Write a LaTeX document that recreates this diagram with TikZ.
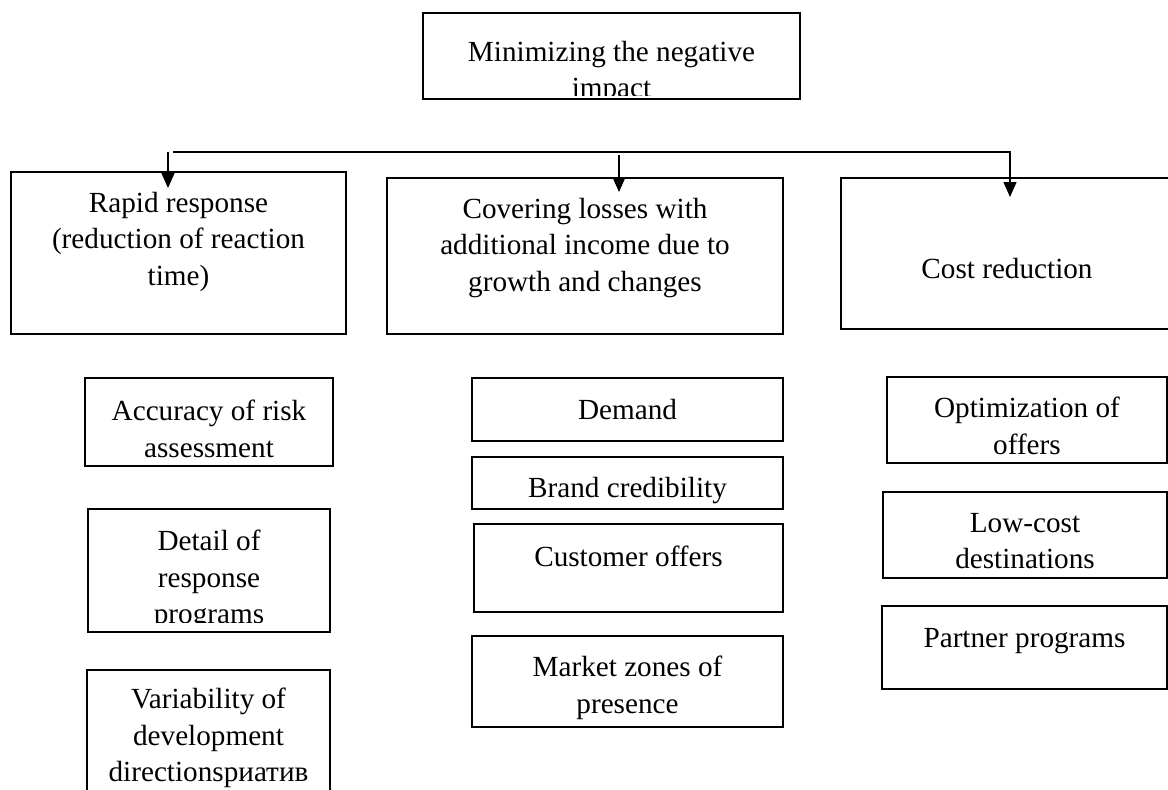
\documentclass[tikz,border=0pt]{standalone}
\usepackage{fontspec}
\setmainfont{Liberation Serif}
\usetikzlibrary{arrows.meta}

\tikzset{
  box/.style={draw=black, line width=1.3pt, inner sep=0pt, outer sep=0pt, anchor=north west},
  txt/.style={font=\fontsize{29.2}{36.5}\selectfont, align=center, inner sep=0pt, anchor=north},
  conn/.style={draw=black, line width=1.4pt},
  arr/.style={conn, -{Triangle[length=15pt, width=13pt]}}
}

\begin{document}
\begin{tikzpicture}[x=1pt, y=-1pt]
  \useasboundingbox (0,0) rectangle (1168,790);
  \fill[white] (0,0) rectangle (1168,790);
  \clip (0,0) rectangle (1168,790);

  % root
  \node[box, minimum width=377pt, minimum height=86pt] (top) at (423,13) {};
  \begin{scope}
    \clip (423,13) rectangle (800,95);
    \node[txt] (top-t) at (611.5,41) {Minimizing the negative\\impact};
  \end{scope}

  % three main directions
  \node[box, minimum width=335pt, minimum height=162pt] (rr) at (11,172) {};
  \node[txt] (rr-t) at (178.5,192) {Rapid response\\(reduction of reaction\\time)};

  \node[box, minimum width=396pt, minimum height=156pt] (cov) at (387,178) {};
  \node[txt] (cov-t) at (585,198) {Covering losses with\\additional income due to\\growth and changes};

  \node[box, minimum width=332pt, minimum height=151pt] (cost) at (841,178) {};
  \node[txt] (cost-t) at (1007,258) {Cost reduction};

  % left column
  \node[box, minimum width=248pt, minimum height=88pt] (acc) at (85,378) {};
  \node[txt] (acc-t) at (209,400) {Accuracy of risk\\assessment};

  \node[box, minimum width=242pt, minimum height=123pt] (det) at (88,509) {};
  \begin{scope}
    \clip (88,509) rectangle (330,622);
    \node[txt] (det-t) at (209,530) {Detail of\\response\\programs};
  \end{scope}

  \node[box, minimum width=243pt, minimum height=130pt] (var) at (87,670) {};
  \node[txt] (var-t) at (208.5,688) {Variability of\\development\\directionsриатив};

  % middle column
  \node[box, minimum width=311pt, minimum height=63pt] (dem) at (472,378) {};
  \node[txt] (dem-t) at (627.5,399) {Demand};

  \node[box, minimum width=311pt, minimum height=52pt] (brand) at (472,457) {};
  \node[txt] (brand-t) at (627.5,477) {Brand credibility};

  \node[box, minimum width=309pt, minimum height=88pt] (cust) at (474,524) {};
  \node[txt] (cust-t) at (628.5,546) {Customer offers};

  \node[box, minimum width=311pt, minimum height=91pt] (mkt) at (472,636) {};
  \node[txt] (mkt-t) at (627.5,656) {Market zones of\\presence};

  % right column
  \node[box, minimum width=280pt, minimum height=86pt] (opt) at (887,377) {};
  \node[txt] (opt-t) at (1027,397) {Optimization of\\offers};

  \node[box, minimum width=284pt, minimum height=86pt] (low) at (883,492) {};
  \node[txt] (low-t) at (1025,513) {Low-cost\\destinations};

  \node[box, minimum width=285pt, minimum height=83pt] (part) at (882,606) {};
  \node[txt] (part-t) at (1024.5,628) {Partner programs};

  % connectors
  \coordinate (busL) at (173,152);
  \coordinate (busR) at (1010,152);
  \coordinate (dropL) at (168,152);
  \coordinate (dropM) at (619,155);

  \draw[arr] (busL) -- (busR) -- ([yshift=-19pt]busR |- cost.north);
  \draw[arr] (dropL) -- ([yshift=-16pt]dropL |- rr.north);
  \draw[arr] (dropM) -- ([yshift=-14pt]dropM |- cov.north);
\end{tikzpicture}
\end{document}
